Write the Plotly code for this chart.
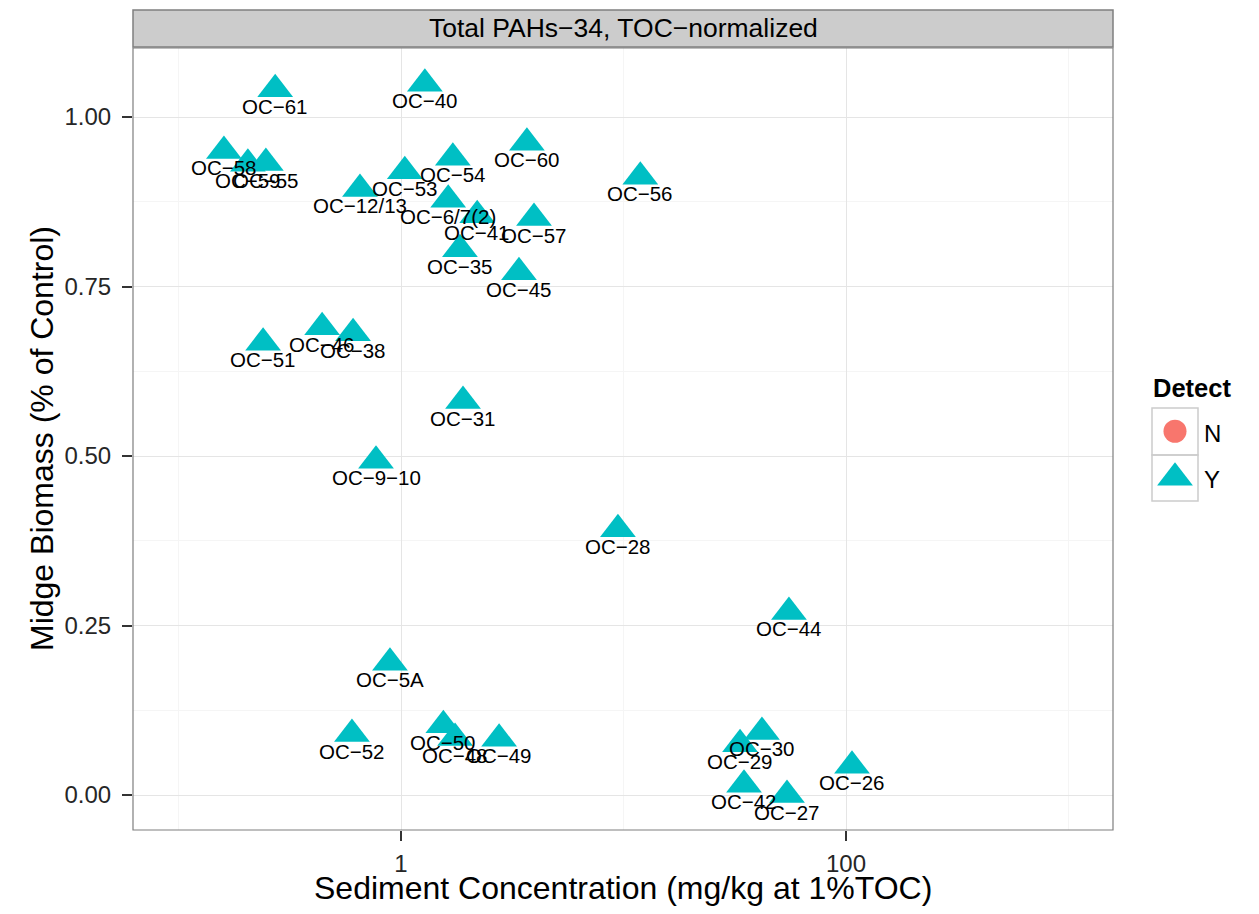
import math
import plotly.graph_objects as go

# ---- data ----
stations = ["OC−61", "OC−40", "OC−58", "OC−59", "OC−55", "OC−12/13", "OC−53", "OC−54",
            "OC−60", "OC−56", "OC−6/7(2)", "OC−41", "OC−57", "OC−35", "OC−45", "OC−51",
            "OC−46", "OC−38", "OC−31", "OC−9−10", "OC−28", "OC−44", "OC−5A", "OC−52",
            "OC−50", "OC−48", "OC−49", "OC−29", "OC−30", "OC−42", "OC−27", "OC−26"]
conc = [0.272, 1.28, 0.160, 0.205, 0.247, 0.654, 1.04, 1.71,
        3.68, 11.9, 1.63, 2.20, 3.96, 1.84, 3.39, 0.240,
        0.442, 0.609, 1.90, 0.772, 9.44, 55.4, 0.892, 0.602,
        1.55, 1.75, 2.76, 33.4, 41.9, 34.8, 54.3, 106.4]
biomass = [1.041, 1.049, 0.950, 0.931, 0.932, 0.894, 0.920, 0.940,
           0.962, 0.912, 0.878, 0.855, 0.851, 0.805, 0.771, 0.667,
           0.690, 0.681, 0.581, 0.493, 0.392, 0.270, 0.195, 0.090,
           0.103, 0.084, 0.083, 0.075, 0.093, 0.015, 0.000, 0.043]
detect = ["Y"] * len(stations)

x_tickvals = [1, 100]
x_ticktext = ["1", "100"]
y_tickvals = [0.0, 0.25, 0.5, 0.75, 1.0]

TEAL = "#00BFC4"
SALMON = "#F8766D"
FONT = "Liberation Sans, Arial, Helvetica, sans-serif"

fig = go.Figure()

fig.add_trace(go.Scatter(
    x=[c for c, d in zip(conc, detect) if d == "Y"],
    y=[b for b, d in zip(biomass, detect) if d == "Y"],
    mode="markers",
    marker=dict(symbol="triangle-up", size=31, color=TEAL, line=dict(width=0)),
    showlegend=False, hoverinfo="skip",
))

annotations = []
for s, c, b in zip(stations, conc, biomass):
    annotations.append(dict(
        x=math.log10(c), y=b, xref="x", yref="y", text=s, showarrow=False,
        yshift=-17, xanchor="center", yanchor="middle",
        font=dict(family=FONT, size=20.5, color="black"),
    ))

# legend keys (separate small axis)
fig.add_trace(go.Scatter(
    x=[0.5], y=[1.5], xaxis="x2", yaxis="y2", mode="markers",
    marker=dict(symbol="circle", size=23, color=SALMON), showlegend=False, hoverinfo="skip"))
fig.add_trace(go.Scatter(
    x=[0.5], y=[0.5], xaxis="x2", yaxis="y2", mode="markers",
    marker=dict(symbol="triangle-up", size=31, color=TEAL), showlegend=False, hoverinfo="skip"))

OFF = 8  # page offset of the figure in the screenshot
W, H = 1251, 906
L, R, T, B = 125, 20, 40, 84
pw = W - L - R
ph = H - T - B

def px_x(s):
    return (s - OFF - L) / pw

def px_y(s):
    return (H - B - (s - OFF)) / ph

main_right = px_x(1113)

shapes = []
# strip
shapes.append(dict(type="rect", xref="x domain", yref="paper", x0=0, x1=1,
                   y0=px_y(47), y1=px_y(10), fillcolor="#CCCCCC",
                   line=dict(color="#7F7F7F", width=1.5), layer="above"))
# panel border
shapes.append(dict(type="rect", xref="x domain", yref="y domain", x0=0, x1=1, y0=0, y1=1,
                   line=dict(color="#7F7F7F", width=1.2), layer="above"))
# legend key boxes
for top, bot in [(408, 455), (455, 501)]:
    shapes.append(dict(type="rect", xref="paper", yref="paper",
                       x0=px_x(1152), x1=px_x(1198), y0=px_y(bot), y1=px_y(top),
                       line=dict(color="#CCCCCC", width=1.5), layer="below"))

annotations.append(dict(x=0.5, y=(px_y(47) + px_y(10)) / 2, xref="x domain", yref="paper",
                        text="Total PAHs−34, TOC−normalized", showarrow=False,
                        font=dict(family=FONT, size=26.5, color="black"),
                        xanchor="center", yanchor="middle"))
annotations.append(dict(x=px_x(1151), y=px_y(388), xref="paper", yref="paper", text="<b>Detect</b>",
                        showarrow=False, xanchor="left", yanchor="middle",
                        font=dict(family=FONT, size=25.5, color="black")))
for lab, yy in [("N", 433), ("Y", 479)]:
    annotations.append(dict(x=px_x(1202), y=px_y(yy), xref="paper", yref="paper", text=lab,
                            showarrow=False, xanchor="left", yanchor="middle",
                            font=dict(family=FONT, size=24, color="black")))
# axis titles
annotations.append(dict(x=0.5, y=px_y(888), xref="x domain", yref="paper",
                        text="Sediment Concentration (mg/kg at 1%TOC)", showarrow=False,
                        xanchor="center", yanchor="middle",
                        font=dict(family=FONT, size=32, color="black")))
annotations.append(dict(x=px_x(42), y=0.5, xref="paper", yref="y domain",
                        text="Midge Biomass (% of Control)", showarrow=False, textangle=-90,
                        xanchor="center", yanchor="middle",
                        font=dict(family=FONT, size=32, color="black")))

fig.update_layout(
    width=W, height=H,
    margin=dict(l=L, r=R, t=T, b=B, pad=0),
    paper_bgcolor="white", plot_bgcolor="white",
    font=dict(family=FONT, color="black"),
    showlegend=False,
    xaxis=dict(
        type="log", domain=[0, main_right], range=[-1.2045, 3.2],
        tickvals=x_tickvals, ticktext=x_ticktext,
        showgrid=True, gridcolor="#E5E5E5", gridwidth=1,
        minor=dict(tickvals=[0.1, 10, 1000], showgrid=True, gridcolor="#F5F5F5", gridwidth=1, ticklen=0),
        ticks="outside", ticklen=10, tickcolor="#333333", tickwidth=1.5,
        ticklabelstandoff=2,
        tickfont=dict(family=FONT, size=24, color="#262626"),
        showline=False, zeroline=False,
    ),
    yaxis=dict(
        domain=[0, 1], range=[-0.0516, 1.1018],
        tickvals=y_tickvals, tickformat=".2f",
        showgrid=True, gridcolor="#E5E5E5", gridwidth=1,
        minor=dict(tickvals=[0.125, 0.375, 0.625, 0.875, 1.125], showgrid=True,
                   gridcolor="#F5F5F5", gridwidth=1, ticklen=0),
        ticks="outside", ticklen=10, tickcolor="#333333", tickwidth=1.5,
        ticklabelstandoff=6,
        tickfont=dict(family=FONT, size=24, color="#262626"),
        showline=False, zeroline=False,
    ),
    xaxis2=dict(domain=[px_x(1152), px_x(1198)], range=[0, 1], visible=False, anchor="y2"),
    yaxis2=dict(domain=[px_y(501), px_y(408)], range=[0, 2], visible=False, anchor="x2"),
    shapes=shapes,
    annotations=annotations,
)

fig.write_html("out.html")
